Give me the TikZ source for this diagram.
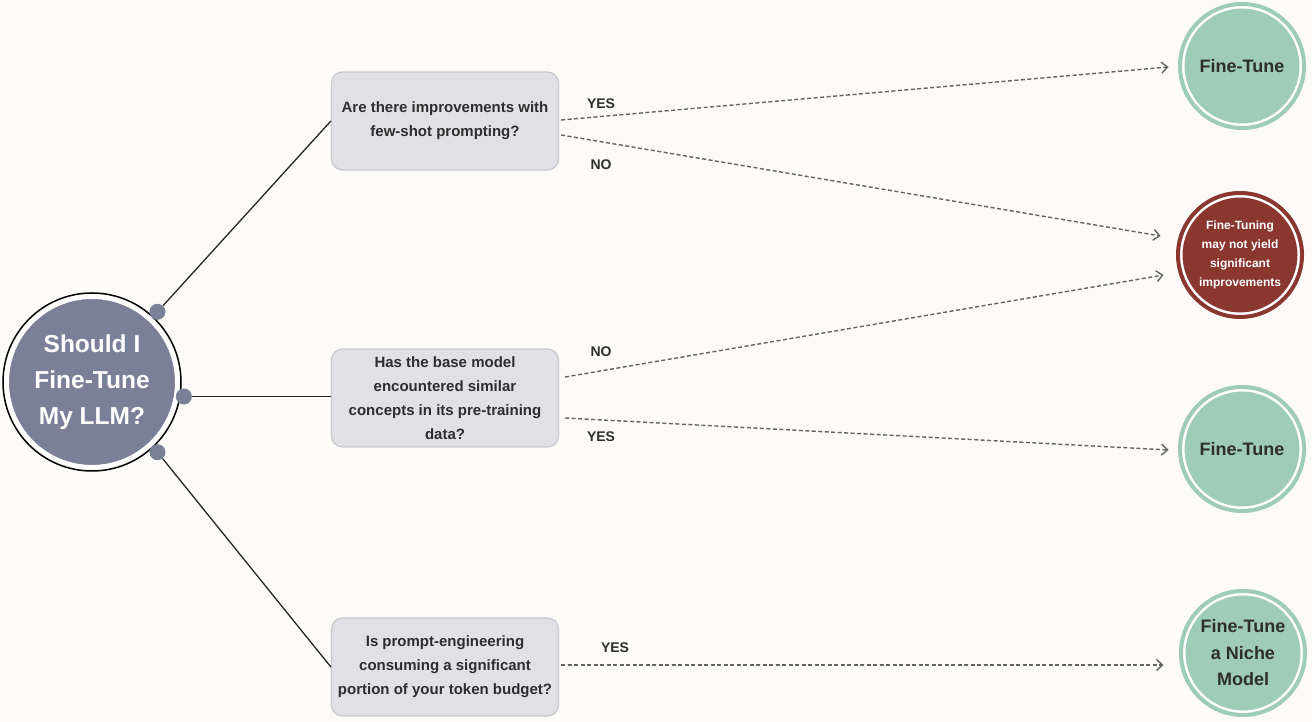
\documentclass[tikz,border=0pt]{standalone}
\usepackage{fontspec}
\setmainfont{Liberation Sans}
\usetikzlibrary{calc}
\usetikzlibrary{arrows.meta}
\definecolor{bgpaper}{HTML}{FCFBF8}
\definecolor{slate}{HTML}{7B8099}
\definecolor{qfill}{HTML}{E1E0E5}
\definecolor{qline}{HTML}{C9C8CE}
\definecolor{mint}{HTML}{9ECCB6}
\definecolor{brick}{HTML}{8A3730}
\definecolor{ink}{HTML}{2E2E2E}
\definecolor{dashgray}{HTML}{636363}

\begin{document}
\begin{tikzpicture}[x=1pt,y=1pt,
 question/.style={rounded corners=11, fill=qfill, draw=qline, line width=1.2, minimum width=227, minimum height=98, align=center, text=ink, font=\bfseries\fontsize{15}{24}\selectfont},
 outcome/.style={circle, fill=mint, draw=white, line width=3, minimum size=118, inner sep=0, align=center, text=ink, font=\bfseries\fontsize{18}{26.5}\selectfont},
 knob/.style={circle, fill=slate, minimum size=16, inner sep=0},
 link/.style={dashgray, line width=1.4, dash pattern=on 4pt off 2.5pt, -{Straight Barb[length=6,width=11]}},
 answer/.style={text=ink, font=\bfseries\fontsize{14}{14}\selectfont}]
\fill[bgpaper] (0,0) rectangle (1312,722);
\useasboundingbox (0,0) rectangle (1312,722);

% start
\node[circle, fill=slate, draw=white, line width=4, minimum size=170, inner sep=0, align=center, text=white, font=\bfseries\fontsize{24.5}{36}\selectfont] (start) at (92,340) {Should I\\Fine-Tune\\My LLM?};
\draw[black, line width=1.5] (start.center) circle (89);
\foreach \a/\r/\n in {47/96/d1, -9/93/d2, -47/96/d3}
 \node[knob] (\n) at ($(start.center)+(\a:\r)$) {};

% questions
\node[question] (q1) at (445,601) {Are there improvements with\\few-shot prompting?};
\node[question] (q2) at (445,324) {Has the base model\\encountered similar\\concepts in its pre-training\\data?};
\node[question] (q3) at (445,55) {Is prompt-engineering\\consuming a significant\\portion of your token budget?};
\draw[black!85, line width=1.3] (d1) -- (q1.west);
\draw[black!85, line width=1.3] (d2) -- (q2.west |- d2);
\draw[black!85, line width=1.3] (d3) -- (q3.west);

% outcomes
\node[outcome] (ft1) at (1242,656) {Fine-Tune};
\node[outcome, fill=brick, text=white, font=\bfseries\fontsize{12}{19}\selectfont] (nope) at (1240,467) {Fine-Tuning\\may not yield\\significant\\improvements};
\node[outcome] (ft2) at (1242,273) {Fine-Tune};
\node[outcome] (ft3) at (1243,69) {Fine-Tune\\a Niche\\Model};
\draw[mint, line width=4] (ft1.center) circle (62);
\draw[brick, line width=4] (nope.center) circle (62);
\draw[mint, line width=4] (ft2.center) circle (62);
\draw[mint, line width=4] (ft3.center) circle (62);

% answers
\draw[link] ($(q1.east)+(2,1)$) -- ($(ft1.west)+(-13,-1)$);
\draw[link] ($(q1.east)+(2,-14)$) -- ($(nope.west)+(-19,19)$);
\draw[link] ($(q2.east)+(6,21)$) -- ($(nope.west)+(-16,-20)$);
\draw[link] ($(q2.east)+(6,-20)$) -- ($(ft2.west)+(-13,-1)$);
\draw[link] ($(q3.east)+(2,2)$) -- ($(ft3.west)+(-19,-12)$);
\node[answer] (yes1) at (601,618) {YES};
\node[answer] (no1) at (601,557) {NO};
\node[answer] (no2) at (601,370) {NO};
\node[answer] (yes2) at (601,285) {YES};
\node[answer] (yes3) at (615,74) {YES};
\end{tikzpicture}
\end{document}
